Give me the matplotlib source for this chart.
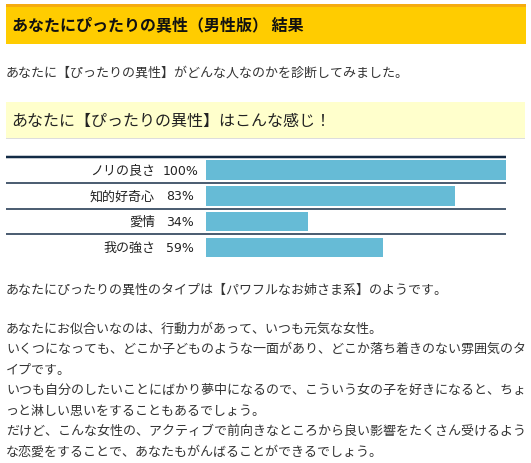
import matplotlib
matplotlib.use("Agg")
import matplotlib.pyplot as plt
from matplotlib.patches import Rectangle

plt.rcParams['font.family'] = ['Noto Sans CJK JP', 'DejaVu Sans']

# data
title = "あなたにぴったりの異性（男性版） 結果"
intro = "あなたに【ぴったりの異性】がどんな人なのかを診断してみました。"
subtitle = "あなたに【ぴったりの異性】はこんな感じ！"
traits = ["ノリの良さ", "知的好奇心", "愛情", "我の強さ"]
scores = [100, 83, 34, 59]
type_line = "あなたにぴったりの異性のタイプは【パワフルなお姉さま系】のようです。"
body_lines = [
    "あなたにお似合いなのは、行動力があって、いつも元気な女性。",
    "いくつになっても、どこか子どものような一面があり、どこか落ち着きのない雰囲気のタ",
    "イプです。",
    "いつも自分のしたいことにばかり夢中になるので、こういう女の子を好きになると、ちょ",
    "っと淋しい思いをすることもあるでしょう。",
    "だけど、こんな女性の、アクティブで前向きなところから良い影響をたくさん受けるよう",
    "な恋愛をすることで、あなたもがんばることができるでしょう。",
]

W, H = 531, 464
px = 72 / 100  # pt per pixel

fig = plt.figure(figsize=(W / 100, H / 100), dpi=100)
fig.patch.set_facecolor("white")

# background axes in pixel coords
bg = fig.add_axes([0, 0, 1, 1])
bg.set_xlim(0, W)
bg.set_ylim(H, 0)
bg.axis("off")

# header box
bg.add_patch(Rectangle((6, 5), 520, 39.5, facecolor="#FFCC00", edgecolor="none"))
bg.add_patch(Rectangle((6, 5), 520, 2.5, facecolor="#F5AC10", edgecolor="none"))
bg.text(12, 25.5, title, fontsize=16 * px, fontweight="bold", color="#111111",
        ha="left", va="center")

bg.text(6, 73, intro, fontsize=13 * px, color="#333333", ha="left", va="center")

# light yellow sub heading
bg.add_patch(Rectangle((6, 102.5), 519, 36, facecolor="#FFFFCC", edgecolor="none"))
bg.add_patch(Rectangle((6, 138.5), 519, 1.2, facecolor="#DDDDDD", edgecolor="none"))
bg.text(11, 121, subtitle, fontsize=16 * px, color="#222222", ha="left", va="center")

# bar chart
top_px, bot_px = 156, 262
row0, pitch = 171.2, 25.7
ax = fig.add_axes([6 / W, 1 - bot_px / H, 500 / W, (bot_px - top_px) / H])
ax.set_xlim(-200 / 3, 100)
ax.set_ylim((bot_px - row0) / pitch, (top_px - row0) / pitch)
ax.axis("off")

navy = "#132B45"
ax.barh(range(len(traits)), scores, height=0.76, color="#66BBD6", zorder=2)
ax.axhline((158 - row0) / pitch, color=navy, lw=2.5 * px)
for i in range(len(traits) - 1):
    ax.axhline(i + 0.5, color=navy, lw=1.5 * px)
for i, (t, s) in enumerate(zip(traits, scores)):
    ax.text(-17, i, t, fontsize=13 * px, color="#222222", ha="right", va="center")
    ax.text(-8.6, i, f"{s}%", fontsize=12.5 * px, color="#222222", ha="center",
            va="center", family=["DejaVu Sans"])

# result text
bg.text(6, 290.5, type_line, fontsize=13 * px, color="#333333", ha="left", va="center")
for k, line in enumerate(body_lines):
    bg.text(6, 329.5 + 20.4 * k, line, fontsize=13 * px, color="#333333",
            ha="left", va="center")

fig.savefig("out.png", dpi=100)
